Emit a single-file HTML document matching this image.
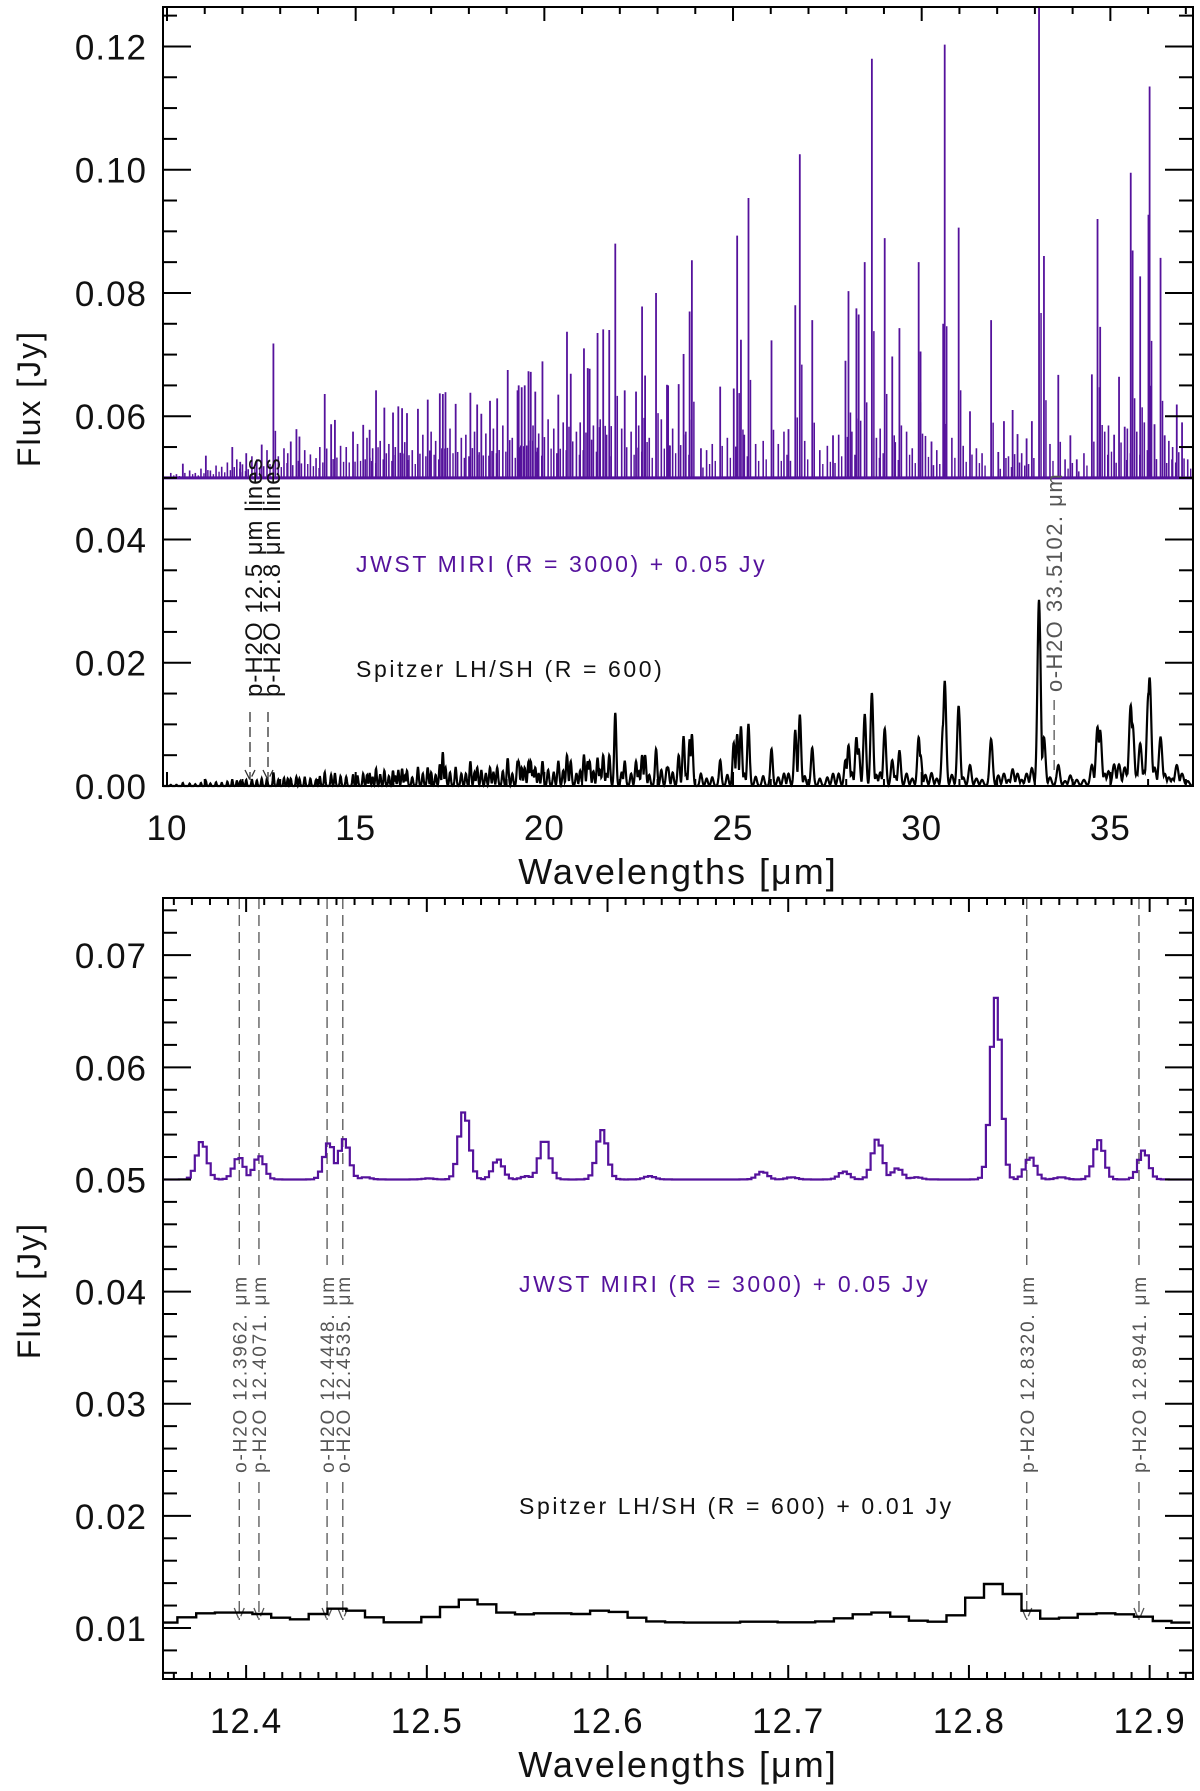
<!DOCTYPE html>
<html><head><meta charset="utf-8"><style>
html,body{margin:0;padding:0;background:#fff;}
svg{display:block;font-family:"Liberation Sans",sans-serif;}
</style></head><body>
<svg id="fig" width="1200" height="1791" viewBox="0 0 1200 1791" xmlns="http://www.w3.org/2000/svg"></svg>
<script>
// ---------- TOP PANEL DATA ----------
const topLineWave = [10.42,11.03,11.73,11.94,12.10,12.51,12.82,13.28,13.43,13.51,14.18,14.35,14.45,14.93,15.2,15.37,15.54,15.76,15.99,16.13,16.23,16.36,16.65,16.91,17.23,17.31,17.38,17.65,18.04,18.22,18.33,18.56,18.75,19.03,19.29,19.32,19.4,19.48,19.58,19.64,19.76,19.95,20.37,20.6,20.70,21.05,21.15,21.2,21.41,21.56,21.72,21.88,22.13,22.43,22.59,22.67,22.96,23.25,23.28,23.56,23.69,23.85,23.91,24.15,24.66,25.02,25.11,25.21,25.41,26.02,26.47,26.65,26.77,27.1,27.65,27.98,28.06,28.27,28.33,28.49,28.68,29.02,29.22,29.41,29.92,29.97,30.26,30.57,30.61,30.98,31.28,31.84,32.03,32.18,32.41,32.54,32.78,32.92,33.11,33.24,33.62,33.94,34.11,34.51,34.66,34.73,35.1,35.23,35.38,35.54,35.59,35.79,36.01,36.04,36.17,36.33,36.44,36.76,36.9];
const topJwstPeak = [.0523,.0536,.055,.0526,.054,.0554,.0718,.0559,.0579,.0567,.0636,.0587,.0594,.0575,.0586,.0578,.0642,.0614,.0606,.0616,.0613,.0605,.0612,.0627,.0637,.0636,.0639,.062,.0638,.0619,.0604,.0625,.0629,.0675,.0642,.065,.0647,.065,.0673,.0672,.064,.0689,.0635,.0737,.0669,.071,.0678,.0677,.0735,.0741,.074,.088,.0642,.064,.0778,.0666,.080,.0651,.065,.0652,.0701,.077,.0853,.0548,.0648,.0645,.0893,.0724,.0954,.0723,.0579,.078,.1025,.0756,.0569,.069,.0803,.0775,.0765,.085,.118,.0889,.0697,.0743,.085,.0705,.0559,.075,.1203,.0906,.0608,.0756,.0542,.0592,.061,.0571,.0564,.0592,.13,.086,.0667,.0569,.053,.0668,.092,.0745,.057,.0664,.0583,.0995,.0869,.0827,.0927,.1135,.0587,.0857,.0569,.0619,.059];
const topSpitzerPeak = [.0005,.0008,.001,.0008,.001,.0012,.0022,.0012,.0015,.0012,.0022,.0018,.002,.0018,.002,.002,.0028,.0025,.0025,.0025,.0028,.0025,.003,.003,.0035,.0055,.003,.003,.004,.003,.0025,.003,.003,.0045,.004,.004,.003,.003,.004,.004,.003,.004,.004,.005,.004,.005,.004,.004,.0045,.005,.005,.0119,.004,.004,.005,.005,.006,.003,.003,.005,.008,.0075,.0084,.002,.0042,.007,.0084,.0096,.010,.006,.002,.009,.0115,.0062,.002,.0042,.0066,.0079,.006,.0116,.0151,.0093,.0042,.0057,.0079,.005,.0021,.01,.017,.013,.0034,.0076,.0017,.002,.0027,.002,.002,.0029,.0302,.0079,.0034,.0017,.001,.0034,.0096,.009,.0035,.0035,.003,.0131,.010,.0069,.015,.0176,.003,.0079,.002,.0034,.002];
// weak lines filling the JWST baseline region
const weakLineWave = [10.1,10.25,10.6,10.75,10.9,11.15,11.3,11.45,11.6,11.85,12.0,12.25,12.38,12.65,12.95,13.1,13.2,13.65,13.8,13.95,14.05,14.6,14.75,15.05,15.3,15.45,15.65,15.88,16.05,16.3,16.5,16.78,17.0,17.12,17.5,17.8,17.92,18.15,18.45,18.65,18.9,19.15,19.7,19.85,20.1,20.25,20.5,20.85,20.95,21.3,21.48,21.65,22.05,22.3,22.5,22.78,23.1,23.4,23.75,24.3,24.45,24.85,25.3,25.6,25.8,26.2,26.35,26.9,27.3,27.5,27.8,28.15,28.8,28.9,29.3,29.6,29.75,30.1,30.4,30.8,31.1,31.45,31.6,32.3,32.65,33.4,33.8,34.3,34.85,34.95,35.45,35.7,35.9,36.55,36.65,37.05];
const weakJwstPeak = [.0508,.0506,.0512,.0508,.0515,.0512,.052,.0518,.0525,.053,.0522,.0535,.053,.0545,.0535,.0548,.054,.0545,.0538,.0532,.055,.0552,.055,.0555,.0565,.0548,.056,.0555,.055,.0558,.0545,.057,.0575,.056,.058,.0565,.057,.0575,.0572,.058,.0585,.0565,.0585,.0572,.0595,.058,.059,.0575,.059,.0585,.0595,.057,.058,.0575,.0585,.0565,.0595,.058,.0575,.0545,.0555,.0565,.057,.0555,.056,.0555,.0575,.056,.0545,.0552,.057,.0575,.0565,.058,.0558,.0575,.0548,.0568,.0545,.0565,.0552,.0548,.054,.0535,.054,.0555,.053,.054,.0575,.0585,.058,.0575,.059,.056,.055,.053];
const weakSpitzerPeak = [.0002,.0002,.0004,.0003,.0005,.0004,.0006,.0005,.0007,.0008,.0007,.001,.0009,.0012,.001,.0013,.0012,.0014,.0012,.001,.0015,.0016,.0015,.0016,.0018,.0014,.0018,.0016,.0016,.0017,.0014,.002,.0022,.0018,.0022,.002,.002,.0022,.002,.0022,.0024,.002,.0024,.002,.0026,.0022,.0025,.002,.0025,.0024,.0026,.002,.0022,.002,.0024,.0018,.0026,.0022,.002,.0012,.0014,.0018,.002,.0015,.0016,.0014,.002,.0016,.0012,.0014,.002,.0022,.0018,.0022,.0016,.002,.0012,.0018,.0012,.0018,.0014,.0012,.001,.001,.001,.0014,.0008,.001,.002,.0024,.002,.002,.0025,.0014,.0012,.0008];
const topXTicks = [10,15,20,25,30,35];
const topYTicks = [0.00,0.02,0.04,0.06,0.08,0.10,0.12];

// ---------- BOTTOM PANEL DATA ----------
const botLineWave = [12.3755,12.396,12.4074,12.446,12.4543,12.466,12.501,12.5207,12.5394,12.5554,12.5652,12.597,12.6233,12.6857,12.702,12.731,12.7494,12.7605,12.771,12.815,12.834,12.851,12.872,12.8967];
const botJwstPeak = [.0534,.0520,.0521,.0533,.0536,.0502,.0501,.0561,.0518,.0503,.0536,.0544,.0503,.0507,.0502,.0507,.0536,.0510,.0502,.0662,.0520,.0502,.0535,.0526];
const botSpitzerStart = 12.3516;
const botSpitzerFlux = [.01048,.01095,.01131,.01137,.01137,.01125,.01092,.01077,.01125,.01172,.01154,.01095,.01051,.01051,.01098,.01187,.01252,.01211,.01137,.01122,.01131,.01131,.01125,.01154,.01143,.01092,.01059,.01051,.01048,.01048,.01048,.01056,.01056,.01051,.01051,.01059,.01086,.01122,.01137,.01101,.01065,.01056,.01113,.0127,.01392,.01303,.01154,.01083,.01092,.01125,.01131,.01122,.01101,.01062,.01048];
const botAnnotWave = [12.3962,12.4071,12.4448,12.4535,12.8320,12.8941];
const botAnnotLabel = ["o-H2O 12.3962. \u03bcm","p-H2O 12.4071. \u03bcm","o-H2O 12.4448. \u03bcm","o-H2O 12.4535. \u03bcm","p-H2O 12.8320. \u03bcm","p-H2O 12.8941. \u03bcm"];
const botXTicks = [12.4,12.5,12.6,12.7,12.8,12.9];
const botYTicks = [0.01,0.02,0.03,0.04,0.05,0.06,0.07];

const NS="http://www.w3.org/2000/svg";
const svg=document.getElementById('fig');
const PURPLE="#55129c";
function mk(tag,attrs,parent){const e=document.createElementNS(NS,tag);for(const k in attrs)e.setAttribute(k,attrs[k]);(parent||svg).appendChild(e);return e;}

function panel(cfg){
  const g=mk('g',{});
  
  
  const X=v=>cfg.x0+(v-cfg.xmin)/(cfg.xmax-cfg.xmin)*(cfg.x1-cfg.x0);
  const Y=v=>cfg.y1-(v-cfg.ymin)/(cfg.ymax-cfg.ymin)*(cfg.y1-cfg.y0);
  return {g,X,Y};
}
function axes(p,cfg){
  const {g,X,Y}=p;
  const ag=mk('g',{stroke:'#000','stroke-width':2,fill:'none'},g);
  
  
  for(let i=Math.ceil(cfg.xmin/cfg.xminor-1e-6);i*cfg.xminor<=cfg.xmax+1e-9;i++){
    const v=i*cfg.xminor; const major=Math.abs(v/cfg.xmajor-Math.round(v/cfg.xmajor))<1e-6;
    const L=major?14:7; const x=X(v);
    mk('line',{x1:x,y1:cfg.y1,x2:x,y2:cfg.y1-L},ag);
    mk('line',{x1:x,y1:cfg.y0,x2:x,y2:cfg.y0+L},ag);
  }
  for(let i=Math.ceil(cfg.ymin/cfg.yminor-1e-6);i*cfg.yminor<=cfg.ymax+1e-9;i++){
    const v=i*cfg.yminor; const major=Math.abs(v/cfg.ymajor-Math.round(v/cfg.ymajor))<1e-6;
    const L=major?28:14; const y=Y(v);
    mk('line',{x1:cfg.x0,y1:y,x2:cfg.x0+L,y2:y},ag);
    mk('line',{x1:cfg.x1,y1:y,x2:cfg.x1-L,y2:y},ag);
  }
  const fr=mk('rect',{x:cfg.x0,y:cfg.y0,width:cfg.x1-cfg.x0,height:cfg.y1-cfg.y0,stroke:'#000','stroke-width':2,fill:'none'},g);
  
  
  cfg.xticks.forEach(v=>{
    const t=mk('text',{x:X(v),y:cfg.y1+54,'font-size':35,'text-anchor':'middle',fill:'#111','letter-spacing':1},g);
    
    
    t.textContent=cfg.xfmt(v);
  });
  cfg.yticks.forEach(v=>{
    const t=mk('text',{x:cfg.x0-16,y:Y(v)+13,'font-size':35,'text-anchor':'end',fill:'#111','letter-spacing':1},g);
    
    
    t.textContent=v.toFixed(2);
  });
  const xt=mk('text',{x:678,y:cfg.y1+98,'font-size':36,'text-anchor':'middle',fill:'#111','letter-spacing':2},g);
  
  
  xt.textContent='Wavelengths [\u03bcm]';
  const cy=(cfg.y0+cfg.y1)/2+2;
  const yt=mk('text',{x:0,y:0,'font-size':32,'text-anchor':'middle',fill:'#111','letter-spacing':2,transform:`translate(40,${cy}) rotate(-90)`},g);
  
  
  yt.textContent='Flux [Jy]';
}
function label(g,x,y,txt,color,name){
  const t=mk('text',{x:x,y:y,'font-size':23,fill:color,'letter-spacing':2.6},g);
  
  
  t.textContent=txt;return t;
}

// ================= TOP PANEL =================
const tc={name:'overview-panel',x0:163,x1:1193,y0:7,y1:786,xmin:9.894,xmax:37.19,ymin:0,ymax:0.1264,xminor:1,xmajor:5,yminor:0.005,ymajor:0.02,xticks:topXTicks,yticks:topYTicks,xfmt:v=>String(v)};
const tp=panel(tc);
{
  const {g,X,Y}=tp;
  const jg=mk('g',{},g);
  
  
  const base=mk('line',{x1:tc.x0,y1:Y(0.05),x2:tc.x1,y2:Y(0.05),stroke:PURPLE,'stroke-width':3},jg);
  
  
  weakLineWave.forEach((w,i)=>{
    const x=X(w);
    const l=mk('line',{x1:x,y1:Y(0.05),x2:x,y2:Y(weakJwstPeak[i]),stroke:PURPLE,'stroke-width':1.6},jg);
    
    
    const l2=mk('line',{x1:x+3,y1:Y(0.05),x2:x+3,y2:Y(0.05+(weakJwstPeak[i]-0.05)*0.5),stroke:PURPLE,'stroke-width':1.4},jg);
    
    
  });
  topLineWave.forEach((w,i)=>{
    const x=X(w);
    const pk=Math.min(topJwstPeak[i],tc.ymax);
    const l=mk('line',{x1:x,y1:Y(0.05),x2:x,y2:Y(pk),stroke:PURPLE,'stroke-width':1.8},jg);
    
    
    const l2=mk('line',{x1:x+2,y1:Y(0.05),x2:x+2,y2:Y(0.05+(pk-0.05)*0.35),stroke:PURPLE,'stroke-width':1.5},jg);
    
    
  });
  const allW=topLineWave.concat(weakLineWave), allS=topSpitzerPeak.concat(weakSpitzerPeak);
  let d='';
  for(let w=tc.xmin;w<=tc.xmax;w+=0.008){
    let v=0;
    allW.forEach((c,i)=>{const s=c/800;const gg=allS[i]*Math.exp(-0.5*((w-c)/s)**2);if(gg>v)v=gg;});
    d+=(d?'L':'M')+X(w).toFixed(1)+' '+Y(v).toFixed(1);
  }
  const sp=mk('path',{d:d,stroke:'#000','stroke-width':2.2,fill:'none'},g);
  
  
  const ag=mk('g',{},g);
  
  
  [[250,254,'p-H2O 12.5 \u03bcm lines'],[268,272,'p-H2O 12.8 \u03bcm lines']].forEach(a=>{
    const dl=mk('path',{d:`M${a[0]} 712 L${a[0]} 780 M${a[0]-5} 770 L${a[0]} 780 L${a[0]+5} 770`,stroke:'#333','stroke-width':1.3,'stroke-dasharray':'10 5',fill:'none'},ag);
    
    
    const t=mk('text',{x:0,y:0,'font-size':24,fill:'#111','letter-spacing':1,'text-anchor':'start',transform:`translate(${a[1]+8},697) rotate(-90)`},ag);
    
    
    t.textContent=a[2];
  });
  const ox=X(33.51);
  const dl=mk('line',{x1:ox,y1:700,x2:ox,y2:770,stroke:'#555','stroke-width':1.3,'stroke-dasharray':'10 5'},ag);
  
  
  const t=mk('text',{x:0,y:0,'font-size':22,fill:'#555','letter-spacing':1.5,transform:`translate(${ox+8},692) rotate(-90)`},ag);
  
  
  t.textContent='o-H2O 33.5102. \u03bcm';
  label(g,356,572,'JWST MIRI (R = 3000) + 0.05 Jy',PURPLE,'legend-jwst');
  label(g,356,677,'Spitzer LH/SH (R = 600)','#111','legend-spitzer');
}
axes(tp,tc);

// ================= BOTTOM PANEL =================
const bc={name:'zoom-panel',x0:163,x1:1193,y0:898,y1:1679,xmin:12.354,xmax:12.924,ymin:0.00545,ymax:0.0751,xminor:0.01,xmajor:0.1,yminor:0.002,ymajor:0.01,xticks:botXTicks,yticks:botYTicks,xfmt:v=>v.toFixed(1)};
const bp=panel(bc);
{
  const {g,X,Y}=bp;
  const ag=mk('g',{},g);
  
  
  botAnnotWave.forEach((w,i)=>{
    const x=X(w);
    const dl=mk('path',{d:`M${x} ${bc.y0} L${x} 1265 M${x} 1482 L${x} 1620 M${x-5} 1608 L${x} 1620 L${x+5} 1608`,stroke:'#555','stroke-width':1.3,'stroke-dasharray':'11 6',fill:'none'},ag);
    
    
    const t=mk('text',{x:0,y:0,'font-size':19,fill:'#555','letter-spacing':1.8,'text-anchor':'middle',transform:`translate(${x+7},1374) rotate(-90)`},ag);
    
    
    t.textContent=botAnnotLabel[i];
  });
  const bw=0.0022; let d='';
  for(let w=bc.xmin;w<bc.xmax;w+=bw){
    const c=w+bw/2; let v=0;
    botLineWave.forEach((lc,i)=>{const gg=(botJwstPeak[i]-0.05)*Math.exp(-0.5*((c-lc)/0.0029)**2);if(gg>v)v=gg;});
    const y=Y(0.05+v).toFixed(1);
    const xa=X(w).toFixed(1), xb=X(Math.min(w+bw,bc.xmax)).toFixed(1);
    d+=(d?`L${xa} ${y}`:`M${xa} ${y}`)+`L${xb} ${y}`;
  }
  const jp=mk('path',{d:d,stroke:PURPLE,'stroke-width':2.2,fill:'none'},g);
  
  
  const sw=0.01038; let s='';
  botSpitzerFlux.forEach((v,i)=>{
    const xa=Math.max(X(botSpitzerStart+i*sw),bc.x0).toFixed(1);
    const xb=Math.min(X(botSpitzerStart+(i+1)*sw),bc.x1).toFixed(1);
    const y=Y(v).toFixed(1);
    s+=(s?`L${xa} ${y}`:`M${xa} ${y}`)+`L${xb} ${y}`;
  });
  const spp=mk('path',{d:s,stroke:'#000','stroke-width':2.4,fill:'none'},g);
  
  
  label(g,519,1292,'JWST MIRI (R = 3000) + 0.05 Jy',PURPLE,'legend-jwst');
  label(g,519,1514,'Spitzer LH/SH (R = 600) + 0.01 Jy','#111','legend-spitzer');
}
axes(bp,bc);
</script>
</body></html>
